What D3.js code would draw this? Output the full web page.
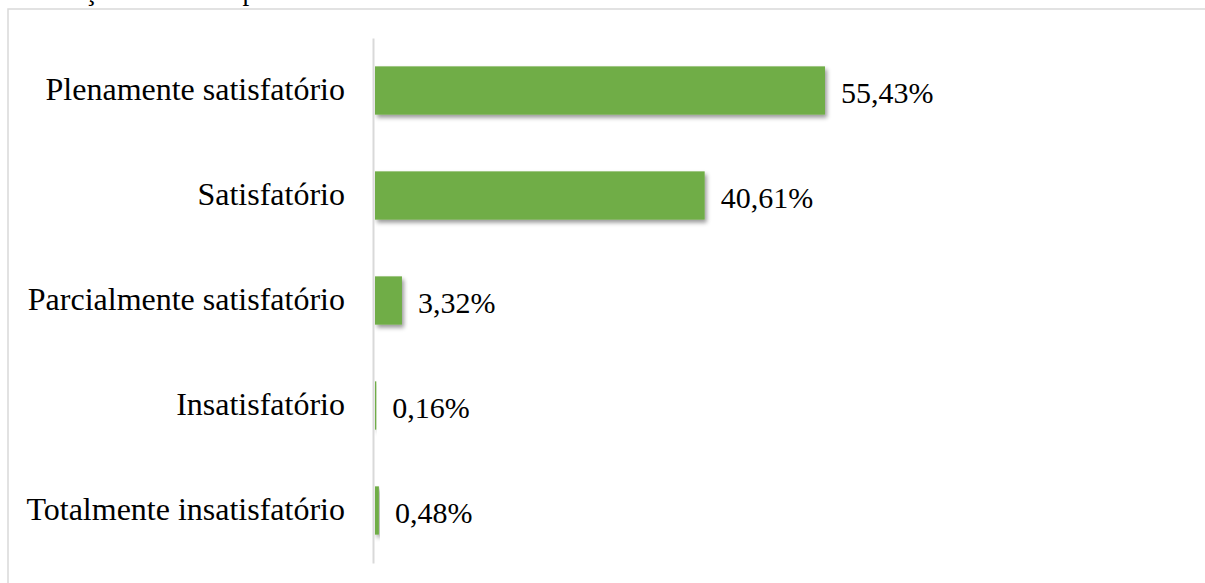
<!DOCTYPE html>
<html>
<head>
<meta charset="utf-8">
<script src="https://cdn.jsdelivr.net/npm/d3@7"></script>
<style>
  html, body { margin: 0; padding: 0; background: #fff; }
  svg { display: block; }
  text { font-family: "Liberation Serif", "Times New Roman", serif; fill: #000; }
</style>
</head>
<body>
<svg id="chart" width="1205" height="583"></svg>
<script>
const categories = [
  "Plenamente satisfatório",
  "Satisfatório",
  "Parcialmente satisfatório",
  "Insatisfatório",
  "Totalmente insatisfatório"
];
const values = [55.43, 40.61, 3.32, 0.16, 0.48];
const valueLabels = ["55,43%", "40,61%", "3,32%", "0,16%", "0,48%"];
const captionText = "formação técnica e profissional do estudante.";

const svg = d3.select("#chart");

// drop shadow
const defs = svg.append("defs");
const f = defs.append("filter").attr("id", "shadow")
  .attr("x", "-10%").attr("y", "-30%").attr("width", "130%").attr("height", "180%");
f.append("feDropShadow").attr("dx", 2).attr("dy", 3).attr("stdDeviation", 2)
  .attr("flood-color", "#000").attr("flood-opacity", 0.4);

// cut-off caption line at top (only its lowest part is visible, as in the reference)
svg.append("text")
  .attr("x", 20).attr("y", 0)
  .style("font-size", "27px")
  .style("word-spacing", "4px")
  .text(captionText);

// chart frame
svg.append("rect")
  .attr("x", 8).attr("y", 9)
  .attr("width", 1300).attr("height", 700)
  .attr("fill", "none")
  .attr("stroke", "#d9d9d9")
  .attr("stroke-width", 1.5);

const axisX = 373;
const x = d3.scaleLinear().domain([0, 60]).range([axisX + 2, axisX + 2 + 60 * 8.118]);
const y = d3.scaleBand().domain(categories).range([38, 563]).paddingInner(0.54).paddingOuter(0.27);

// bars
svg.append("g").selectAll("rect")
  .data(values)
  .join("rect")
  .attr("x", x(0))
  .attr("y", (d, i) => y(categories[i]))
  .attr("width", d => x(d) - x(0))
  .attr("height", y.bandwidth())
  .attr("fill", "#70ad47")
  .attr("filter", "url(#shadow)");

// axis
const gAxis = svg.append("g")
  .attr("transform", `translate(${axisX},0)`)
  .call(d3.axisLeft(y).tickSize(0).tickPadding(28));
gAxis.select(".domain").attr("stroke", "#d9d9d9").attr("stroke-width", 2);
gAxis.selectAll(".tick text")
  .style("font-family", '"Liberation Serif", "Times New Roman", serif')
  .style("font-size", "32px")
  .attr("fill", "#000")
  .attr("dy", "0.3em");

// value labels
svg.append("g").selectAll("text")
  .data(values)
  .join("text")
  .attr("x", d => x(d) + 16)
  .attr("y", (d, i) => y(categories[i]) + y.bandwidth() / 2)
  .attr("dy", "0.4em")
  .style("font-size", "30px")
  .text((d, i) => valueLabels[i]);
</script>
</body>
</html>
